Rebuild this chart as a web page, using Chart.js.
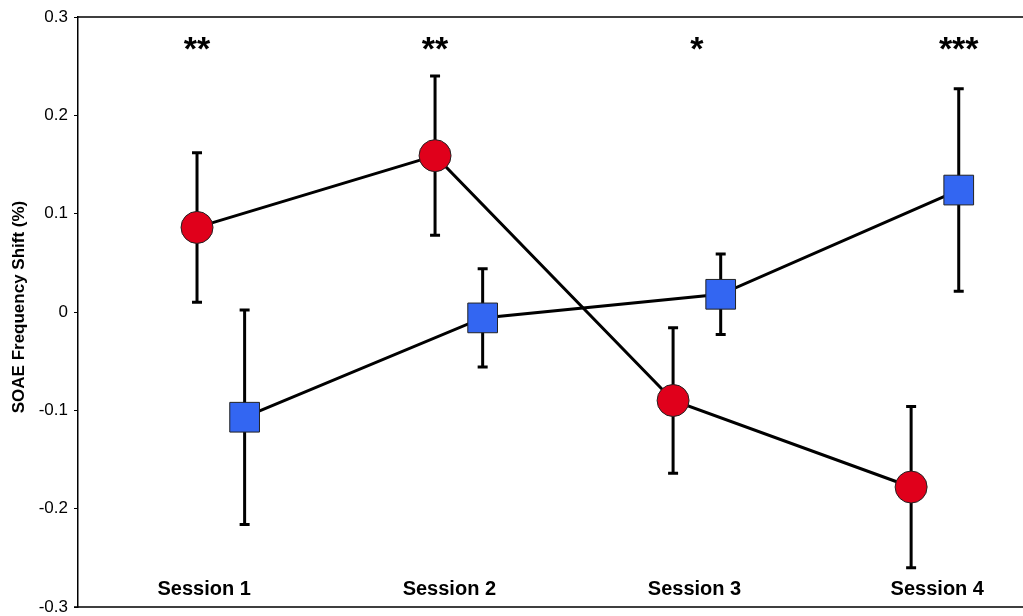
<!DOCTYPE html>
<html>
<head>
<meta charset="utf-8">
<script src="https://cdn.jsdelivr.net/npm/chart.js@4.4.1/dist/chart.umd.min.js"></script>
<style>
  html, body { margin: 0; padding: 0; background: #fff; }
  #wrap { width: 1023px; height: 616px; }
</style>
</head>
<body>
<div id="wrap"><canvas id="myChart"></canvas></div>
<script>
var sessions = ['Session 1', 'Session 2', 'Session 3', 'Session 4'];
var stars = ['**', '**', '*', '***'];
var redMeans = [0.086, 0.159, -0.090, -0.178];
var redErr = [0.076, 0.081, 0.074, 0.082];
var blueMeans = [-0.107, -0.006, 0.018, 0.124];
var blueErr = [0.109, 0.050, 0.041, 0.103];
var yTicks = [-0.3, -0.2, -0.1, 0, 0.1, 0.2, 0.3];

var FONT = 'Arial, "Liberation Sans", Helvetica, sans-serif';

// red sits on the session number, blue slightly to the right
function toPoints(means, shift) {
    return means.map(function (v, i) { return { x: i + 1 + shift, y: v }; });
}

var labelX = [1.03, 2.06, 3.09, 4.11];
var starX = [1.0, 2.0, 3.1, 4.2];

var errorBars = {
    id: 'errorBars',
    beforeDatasetsDraw: function (chart) {
        var ctx = chart.ctx;
        var xs = chart.scales.x, ys = chart.scales.y;
        var sets = [[redMeans, redErr, 0], [blueMeans, blueErr, 0.2]];
        ctx.save();
        ctx.strokeStyle = '#000';
        ctx.lineWidth = 3;
        sets.forEach(function (s) {
            s[0].forEach(function (m, i) {
                var px = xs.getPixelForValue(i + 1 + s[2]);
                var top = ys.getPixelForValue(m + s[1][i]);
                var bot = ys.getPixelForValue(m - s[1][i]);
                ctx.beginPath();
                ctx.moveTo(px, top); ctx.lineTo(px, bot);
                ctx.moveTo(px - 5, top); ctx.lineTo(px + 5, top);
                ctx.moveTo(px - 5, bot); ctx.lineTo(px + 5, bot);
                ctx.stroke();
            });
        });
        ctx.restore();
    },
    afterDraw: function (chart) {
        var ctx = chart.ctx;
        var area = chart.chartArea;
        var xs = chart.scales.x;
        ctx.save();
        // top and bottom frame lines
        ctx.strokeStyle = '#000';
        ctx.lineWidth = 1.5;
        ctx.beginPath();
        ctx.moveTo(area.left, area.top);
        ctx.lineTo(area.right, area.top);
        ctx.moveTo(area.left - 4, area.bottom);
        ctx.lineTo(area.right, area.bottom);
        ctx.stroke();

        ctx.fillStyle = '#000';
        ctx.textAlign = 'center';
        ctx.textBaseline = 'alphabetic';
        ctx.font = 'bold 20px ' + FONT;
        sessions.forEach(function (s, i) {
            ctx.fillText(s, xs.getPixelForValue(labelX[i]), area.bottom - 12);
        });
        ctx.font = 'bold 34px ' + FONT;
        stars.forEach(function (s, i) {
            ctx.fillText(s, xs.getPixelForValue(starX[i]), area.top + 43);
        });

        // y title
        ctx.font = 'bold 17px ' + FONT;
        ctx.textBaseline = 'middle';
        ctx.translate(19, 307);
        ctx.rotate(-Math.PI / 2);
        ctx.fillText('SOAE Frequency Shift (%)', 0, 0);
        ctx.restore();
    }
};

var ctx = document.getElementById('myChart');
var myChart = new Chart(ctx, {
    type: 'scatter',
    data: {
        datasets: [{
            data: toPoints(redMeans, 0),
            showLine: true,
            borderColor: '#000',
            borderWidth: 3,
            pointStyle: 'circle',
            pointRadius: 16,
            pointBorderWidth: 1,
            pointBorderColor: '#222',
            pointBackgroundColor: '#E0001B'
        }, {
            data: toPoints(blueMeans, 0.2),
            showLine: true,
            borderColor: '#000',
            borderWidth: 3,
            pointStyle: 'rect',
            pointRadius: 21,
            pointBorderWidth: 1,
            pointBorderColor: '#222',
            pointBackgroundColor: '#3366F2'
        }]
    },
    plugins: [errorBars],
    options: {
        responsive: true,
        maintainAspectRatio: false,
        animation: false,
        events: [],
        layout: { autoPadding: false, padding: { top: 17, bottom: 9, right: 0, left: 0 } },
        plugins: {
            legend: { display: false },
            title: { display: false },
            tooltip: { enabled: false }
        },
        scales: {
            x: {
                type: 'linear',
                display: false,
                min: 0.5,
                max: 4.47
            },
            y: {
                min: -0.3,
                max: 0.3,
                afterFit: function (scale) {
                    scale.width = 78;
                    scale.paddingTop = 0;
                    scale.paddingBottom = 0;
                },
                afterBuildTicks: function (scale) {
                    scale.ticks = yTicks.map(function (v) { return { value: v }; });
                },
                grid: { drawOnChartArea: false, drawTicks: true, tickLength: 4, color: '#000', lineWidth: 1 },
                border: { color: '#000', width: 1.5 },
                ticks: {
                    color: '#000',
                    padding: 6,
                    font: { family: FONT, size: 17 },
                    callback: function (v) {
                        if (Math.abs(v) < 1e-9) return '0';
                        return v.toFixed(1);
                    }
                }
            }
        }
    }
});
</script>
</body>
</html>
